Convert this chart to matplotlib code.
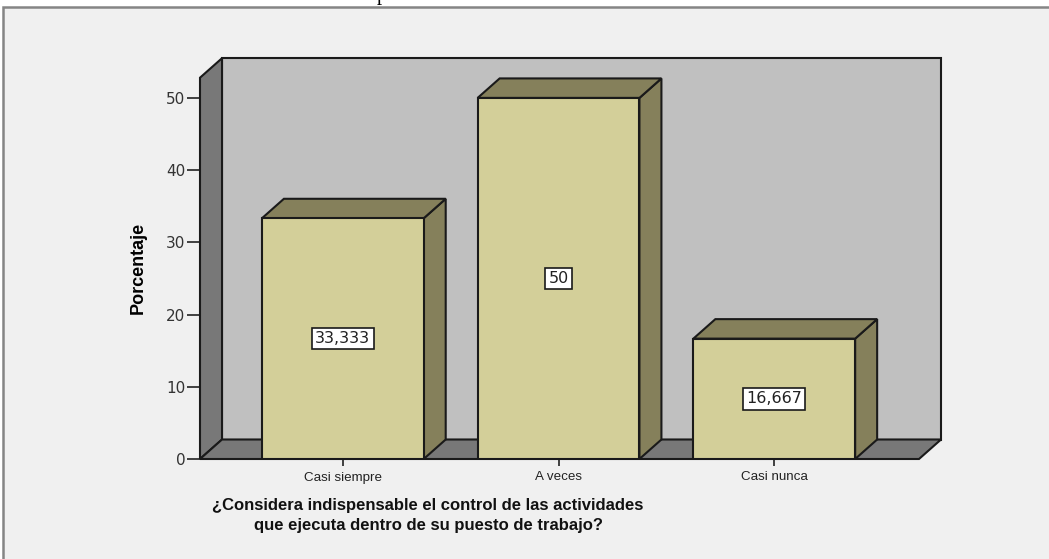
import matplotlib
matplotlib.use("Agg")
import matplotlib.pyplot as plt
from matplotlib.patches import Polygon, Rectangle

categories = ["Casi siempre", "A veces", "Casi nunca"]
percentages = [33.333, 50.0, 16.667]
value_labels = ["33,333", "50", "16,667"]
y_ticks = [0, 10, 20, 30, 40, 50]

x_title = "¿Considera indispensable el control de las actividades\nque ejecuta dentro de su puesto de trabajo?"
y_title = "Porcentaje"

# colours / geometry of the fake 3d look
wall_back = "#c0c0c0"
wall_side = "#787878"
bar_front = "#d3cf99"
bar_shade = "#85805b"
edge = "#1a1a1a"
dx, dy = 0.102, 2.7          # depth offset in data units
bar_w = 0.75
xlo, xhi = -0.662, 2.671
ytop = 52.8

W, H = 1049, 559
fig = plt.figure(figsize=(W / 100, H / 100), dpi=100, facecolor="white")

# outer frame (behind the axes)
fig.patches.append(Rectangle((3 / W, -0.1), 1.2, 1.1 - 7 / H, transform=fig.transFigure,
                             facecolor="#f0f0f0", edgecolor="#858585", lw=1.8, zorder=-1))
# cut-off letter from the page above
fig.text(377 / W, 1.0, "p", family="Liberation Serif", fontsize=15, ha="left", va="baseline")

ax = fig.add_axes([200 / W, (H - 459) / H, 719 / W, (459 - 77.7) / H])
ax.set_xlim(xlo, xhi)
ax.set_ylim(0, ytop)
ax.patch.set_visible(False)
for s in ax.spines.values():
    s.set_visible(False)

def poly(pts, fc, z):
    ax.add_patch(Polygon(pts, closed=True, facecolor=fc, edgecolor=edge, lw=1.5,
                         joinstyle="miter", zorder=z, clip_on=False))

# back wall, side wall, floor
poly([(xlo + dx, dy), (xhi + dx, dy), (xhi + dx, ytop + dy), (xlo + dx, ytop + dy)], wall_back, 1)
poly([(xlo, 0), (xlo + dx, dy), (xlo + dx, ytop + dy), (xlo, ytop)], wall_side, 2)
poly([(xlo, 0), (xhi, 0), (xhi + dx, dy), (xlo + dx, dy)], wall_side, 2)

xs = range(len(categories))
ax.bar(xs, percentages, width=bar_w, color=bar_front, edgecolor=edge, lw=1.5, zorder=4)
for x, h, lab in zip(xs, percentages, value_labels):
    b0, b1 = x - bar_w / 2, x + bar_w / 2
    poly([(b1, 0), (b1 + dx, dy), (b1 + dx, h + dy), (b1, h)], bar_shade, 3)
    poly([(b0, h), (b1, h), (b1 + dx, h + dy), (b0 + dx, h + dy)], bar_shade, 3)
    ax.text(x, h / 2, lab, ha="center", va="center", fontsize=11.5, family="DejaVu Sans",
            color="#222222", zorder=6,
            bbox=dict(boxstyle="square,pad=0.2", facecolor="white", edgecolor=edge, lw=1.2))

ax.set_yticks(y_ticks)
ax.set_yticklabels([str(v) for v in y_ticks], family="DejaVu Sans", fontsize=11, color="#333333")
ax.tick_params(axis="y", length=9.4, width=1.2, color="#222222", pad=1)
ax.set_xticks(list(xs))
ax.set_xticklabels(categories, family="Liberation Sans", fontsize=9.6, color="#222222")
ax.tick_params(axis="x", length=5, width=1.2, color="#222222", pad=4)

ax.text((138 - 200) / 719, 0.5, y_title, transform=ax.transAxes, rotation=90,
        ha="center", va="center", fontsize=13, fontweight="bold", family="Liberation Sans")
fig.text(428 / W, 1 - 515.5 / H, x_title, ha="center", va="center", fontsize=12,
         fontweight="bold", family="Liberation Sans", linespacing=1.37, color="#111111")

fig.savefig("out.png", dpi=100, facecolor="white")
